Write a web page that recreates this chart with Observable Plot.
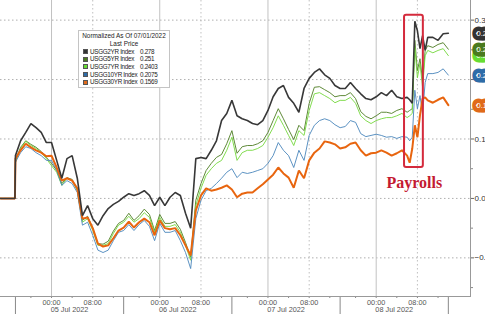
<!DOCTYPE html>
<html><head><meta charset="utf-8">
<script src="https://cdn.jsdelivr.net/npm/d3@7"></script>
<script src="https://cdn.jsdelivr.net/npm/@observablehq/plot@0.6"></script>
<style>
body{margin:0;background:#fff;}
#wrap{position:relative;width:485px;height:314px;overflow:hidden;font-family:"Liberation Sans",Arial,sans-serif;}
#legend{position:absolute;left:78px;top:30px;width:92px;height:58px;background:#fff;border:1px solid #c4c4c4;box-sizing:border-box;color:#222;font-size:6.4px;}
#legend div{position:absolute;white-space:nowrap;line-height:8px;}
#legend .row{font-size:6.3px;letter-spacing:-0.3px;}
.sw{position:absolute;width:5px;height:5px;border:0.5px solid #555;box-sizing:border-box;}
</style></head>
<body><div id="wrap"><div id="chart"></div><div id="legend"></div></div>
<script>
// x: session hours since start of the 05 Jul 2022 session (each session 21h)
const hours = [-2.9,-0.1,0,1,2,3,4,5,6,7,8,9,10,11,12,13,14,15,16,17,18,19,20,21,22,23,24,25,26,27,28,29,30,31,32,33,34,35,36,37,38,39,40,41,42,43,44,45,46,47,48,49,50,51,52,53,54,55,56,57,58,59,60,61,62,63,64,65,66,67,68,69,70,71,72,73,74,75,76,76.5,77,77.5,78,78.5,79,79.5,80,81,82,83,84];

const usgg2 = [0,0,
 0.072,0.097,0.111,0.126,0.119,0.111,0.094,0.094,0.064,0.034,
 0.067,0.072,0.034,-0.029,-0.012,-0.034,-0.045,-0.029,-0.017,-0.010,
 -0.005,0.002,0.008,0.005,0.008,0.013,0.005,-0.012,0.002,-0.012,
 0.002,0.010,0.005,-0.025,-0.050,0.067,0.069,0.067,0.081,0.097,
 0.131,0.143,0.165,0.139,0.134,0.131,0.126,0.124,0.131,0.148,
 0.171,0.185,0.190,0.170,0.160,0.145,0.185,0.202,0.212,0.218,
 0.208,0.202,0.190,0.185,0.185,0.195,0.185,0.176,0.168,0.166,
 0.171,0.178,0.173,0.182,0.171,0.168,0.170,
 0.166,0.160,0.298,0.282,0.252,0.274,0.249,
 0.271,0.271,0.266,0.277,0.278];

const usgg5 = [0,0,
 0.064,0.086,0.097,0.091,0.086,0.079,0.069,0.059,0.047,0.025,
 0.035,0.032,0.015,-0.037,-0.030,-0.050,-0.076,-0.077,-0.072,-0.055,
 -0.042,-0.037,-0.025,-0.037,-0.029,-0.018,-0.027,-0.054,-0.027,-0.042,
 -0.042,-0.039,-0.052,-0.074,-0.099,-0.003,0.025,0.047,0.059,0.069,
 0.074,0.092,0.114,0.076,0.087,0.089,0.089,0.092,0.097,0.111,
 0.131,0.151,0.134,0.116,0.099,0.123,0.114,0.160,0.187,0.188,
 0.183,0.178,0.171,0.173,0.173,0.178,0.168,0.146,0.138,0.134,
 0.139,0.145,0.145,0.143,0.148,0.151,0.145,
 0.148,0.151,0.266,0.215,0.235,0.198,0.249,
 0.257,0.254,0.259,0.262,0.251];

const usgg7 = [0,0,
 0.061,0.084,0.096,0.089,0.084,0.077,0.067,0.055,0.044,0.022,
 0.034,0.030,0.013,-0.040,-0.034,-0.054,-0.079,-0.079,-0.076,-0.059,
 -0.045,-0.040,-0.030,-0.040,-0.034,-0.024,-0.032,-0.057,-0.032,-0.047,
 -0.047,-0.044,-0.057,-0.079,-0.104,-0.012,0.017,0.039,0.050,0.059,
 0.064,0.081,0.103,0.064,0.077,0.081,0.081,0.084,0.089,0.103,
 0.119,0.139,0.123,0.106,0.089,0.114,0.106,0.148,0.176,0.178,
 0.173,0.168,0.161,0.165,0.165,0.170,0.160,0.139,0.131,0.126,
 0.131,0.134,0.136,0.136,0.139,0.143,0.136,
 0.139,0.143,0.254,0.203,0.227,0.187,0.240,
 0.249,0.245,0.249,0.252,0.2403];

const usgg10 = [0,0,
 0.061,0.077,0.087,0.084,0.077,0.072,0.064,0.064,0.047,0.022,
 0.030,0.025,0.010,-0.045,-0.040,-0.062,-0.087,-0.091,-0.087,-0.071,
 -0.057,-0.054,-0.044,-0.054,-0.044,-0.037,-0.047,-0.071,-0.042,-0.057,
 -0.057,-0.054,-0.071,-0.091,-0.118,-0.034,-0.003,0.013,0.017,0.025,
 0.034,0.044,0.050,0.035,0.044,0.042,0.044,0.047,0.050,0.059,
 0.072,0.094,0.081,0.072,0.052,0.081,0.064,0.106,0.123,0.131,
 0.134,0.131,0.124,0.119,0.121,0.131,0.128,0.109,0.104,0.106,
 0.108,0.106,0.103,0.104,0.101,0.104,0.103,
 0.097,0.103,0.182,0.151,0.173,0.143,0.195,
 0.210,0.210,0.212,0.218,0.2075];

const usgg30 = [0,0,
 0.067,0.081,0.092,0.086,0.081,0.077,0.071,0.072,0.052,0.030,
 0.034,0.030,0.017,-0.034,-0.032,-0.050,-0.076,-0.081,-0.079,-0.067,
 -0.054,-0.049,-0.039,-0.049,-0.040,-0.034,-0.040,-0.062,-0.037,-0.050,
 -0.052,-0.050,-0.062,-0.079,-0.096,-0.020,0.005,0.017,0.013,0.015,
 0.018,0.022,0.015,0.002,0.008,0.010,0.010,0.017,0.024,0.032,
 0.040,0.052,0.042,0.035,0.018,0.047,0.034,0.064,0.077,0.084,
 0.096,0.094,0.091,0.084,0.086,0.092,0.094,0.081,0.072,0.076,
 0.077,0.081,0.077,0.072,0.076,0.081,0.072,
 0.060,0.084,0.123,0.103,0.140,0.168,0.170,
 0.165,0.161,0.166,0.170,0.157];

const seriesNames = ["USGG2YR Index","USGG5YR Index","USGG7YR Index","USGG10YR Index","USGG30YR Index"];
const lastPrices = ["0.278","0.251","0.2403","0.2075","0.1569"];
const lastValues = [0.278,0.251,0.2403,0.2075,0.1569];
const lineColors = ["#383838","#4d7d22","#74d83c","#4a86bb","#e8650f"];
const legendColors = ["#333333","#4a7a1e","#66dd33","#2e6ca8","#e06a1a"];
const lineWidths = [1.6,0.9,0.9,0.9,2];
const seriesValues = [usgg2,usgg5,usgg7,usgg10,usgg30];

const yMajor = [-0.1,0,0.1,0.2,0.3];
const yMinor = [-0.15,-0.05,0.05,0.15,0.25];
const midnightHours = [7,28,49,70];
const eightHours = [15,36,57,78];
const tickHours = [7,15,28,36,49,57,70,78];
const tickLabels = ["00:00","08:00","00:00","08:00","00:00","08:00","00:00","08:00"];
const minorTickHours = [3,11,19,24,32,40,45,53,61,66,74,82];
const daySeparators = [0,21,42,63,84];
const dayCenters = [10.5,31.5,52.5,73.5];
const dayLabels = ["05 Jul 2022","06 Jul 2022","07 Jul 2022","08 Jul 2022"];
const payrollWindow = [{start:75.5,end:79.15,low:0.052,high:0.308}];
const payrollNote = [{h:77.4,v:0.027,text:"Payrolls"}];

const lineData = [];
seriesValues.forEach((vals,k)=>{
  hours.forEach((h,i)=>lineData.push({h, v: vals[i], s: seriesNames[k]}));
});
const drawOrder = [1,2,3,4,0];
const tagData = seriesNames.map((s,k)=>({s, v:lastValues[k], text:lastPrices[k], c:legendColors[k]}));
const tagOrder = [4,3,2,1,0];

const chart = Plot.plot({
  width:485, height:314,
  marginLeft:0, marginRight:15, marginTop:0, marginBottom:18,
  x:{domain:[-2.9,88.3]},
  y:{domain:[-0.165,0.333]},
  style:{fontFamily:"Liberation Sans, Arial, sans-serif", fontSize:"7.5px", color:"#444", background:"#fff", overflow:"visible"},
  marks:[
    Plot.ruleY(yMajor,{stroke:"#9a9a9a",strokeDasharray:"1.5,2.5",strokeWidth:0.8}),
    Plot.ruleX(midnightHours,{stroke:"#c2c2c2",strokeWidth:1}),
    Plot.ruleX(eightHours,{stroke:"#b0b0b0",strokeDasharray:"1.5,2.5",strokeWidth:0.8}),
    Plot.axisX({ticks:tickHours,tickFormat:(d,i)=>tickLabels[i],tickSize:2,tickPadding:1,stroke:"#888",fill:"#555",fontSize:7.3}),
    Plot.axisX({ticks:minorTickHours,tickFormat:()=>"",tickSize:2,stroke:"#888"}),
    Plot.axisX({ticks:dayCenters,tickFormat:(d,i)=>dayLabels[i],tickSize:0,tickPadding:10.5,fill:"#555",fontSize:7.3}),
    Plot.axisX({ticks:daySeparators,tickFormat:()=>"",tickSize:18,stroke:"#888"}),
    Plot.axisY({anchor:"right",ticks:yMajor,tickFormat:d3.format(".2f"),tickSize:3,tickPadding:1,fill:"#333",stroke:"#666",fontSize:8}),
    Plot.axisY({anchor:"right",ticks:yMinor,tickFormat:()=>"",tickSize:2,stroke:"#888"}),
    Plot.frame({anchor:"right",stroke:"#999"}),
    Plot.frame({anchor:"bottom",stroke:"#999"}),
    ...drawOrder.map(k=>Plot.line(lineData.filter(d=>d.s===seriesNames[k]),{x:"h",y:"v",stroke:lineColors[k],strokeWidth:lineWidths[k],strokeLinejoin:"miter",curve:"linear"})),
    Plot.rect(payrollWindow,{x1:"start",x2:"end",y1:"low",y2:"high",fill:"none",stroke:"#d42a3c",strokeWidth:2,rx:2}),
    Plot.text(payrollNote,{x:"h",y:"v",text:"text",fill:"#c41a32",fontFamily:"Liberation Serif, DejaVu Serif, serif",fontWeight:"bold",fontSize:16}),
    Plot.text(tagOrder.map(k=>tagData[k]),{x:()=>88.3,y:"v",text:"text",dx:6,textAnchor:"start",fill:"#fff",stroke:"c",strokeWidth:9,strokeLinejoin:"round",paintOrder:"stroke",fontSize:7.5})
  ]
});
document.getElementById("chart").appendChild(chart);

// legend box
const lg = document.getElementById("legend");
const t1 = document.createElement("div");
t1.textContent = "Normalized As Of 07/01/2022";
t1.style.cssText = "left:0;width:90px;text-align:center;top:1px;";
lg.appendChild(t1);
const t2 = document.createElement("div");
t2.textContent = "Last Price";
t2.style.cssText = "left:0;width:90px;text-align:center;top:9px;";
lg.appendChild(t2);
seriesNames.forEach((s,k)=>{
  const top = 16.5 + k*7.7;
  const sw = document.createElement("span");
  sw.className = "sw";
  sw.style.left = "4px"; sw.style.top = (top+1.5)+"px"; sw.style.background = legendColors[k];
  lg.appendChild(sw);
  const n = document.createElement("div");
  n.className = "row";
  n.textContent = s; n.style.left = "11px"; n.style.top = top+"px";
  lg.appendChild(n);
  const v = document.createElement("div");
  v.className = "row";
  v.textContent = lastPrices[k]; v.style.left = "61px"; v.style.top = top+"px";
  lg.appendChild(v);
});
</script></body></html>
